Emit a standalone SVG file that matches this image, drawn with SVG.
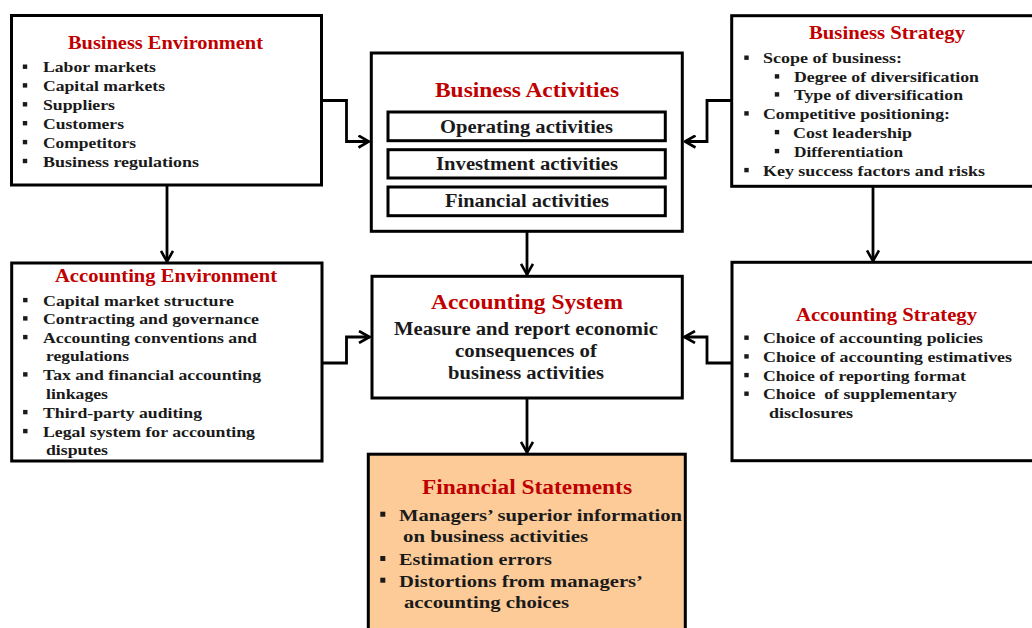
<svg xmlns="http://www.w3.org/2000/svg" xmlns:xlink="http://www.w3.org/1999/xlink" width="1032" height="628" viewBox="0 0 1032 628">
  <style>
    .box { fill: #ffffff; stroke: #000000; stroke-width: 3; }
    .fs { fill: #FCCB98; stroke: #000000; stroke-width: 3; }
    .t { font-family: "Liberation Serif", "Times New Roman", serif; font-weight: bold; fill: #1a1a1a; }
    .h { fill: #C00000; }
    .s { font-size: 15.5px; }
    .ht { font-size: 18.5px; }
    .hm { font-size: 20.5px; }
    .m { font-size: 18px; }
    .f { font-size: 17.5px; }
    .wire { fill: none; stroke: #000000; stroke-width: 2.8; }
    .dot { fill: #1a1a1a; }
  </style>
  <defs>
    <marker id="arr" viewBox="0 0 14 14" refX="12.5" refY="7" markerWidth="14" markerHeight="14" markerUnits="userSpaceOnUse" orient="auto">
      <path d="M2,1 L12.5,7 L2,13" fill="none" stroke="#000000" stroke-width="2.6"/>
    </marker>
    <rect id="b" x="-2.2" y="-2.2" width="4.4" height="4.4" class="dot"/>
    <rect id="bb" x="-2.5" y="-2.5" width="5" height="5" class="dot"/>
  </defs>

  <rect width="1032" height="628" fill="#ffffff"/>

  <!-- connectors -->
  <g id="connectors">
    <path class="wire" d="M322,100.5 H346.5 V141.5 H369" marker-end="url(#arr)"/>
    <path class="wire" d="M731,100.5 H707 V141.5 H685" marker-end="url(#arr)"/>
    <path class="wire" d="M527,232 V274.5" marker-end="url(#arr)"/>
    <path class="wire" d="M167,185 V261.5" marker-end="url(#arr)"/>
    <path class="wire" d="M873,186 V261" marker-end="url(#arr)"/>
    <path class="wire" d="M322,363 H346.5 V337 H369.5" marker-end="url(#arr)"/>
    <path class="wire" d="M731,363 H707 V337 H684.5" marker-end="url(#arr)"/>
    <path class="wire" d="M527,398 V452.5" marker-end="url(#arr)"/>
  </g>

  <!-- Business Environment -->
  <g id="business-environment">
    <rect class="box" x="11.5" y="15.5" width="310" height="169.5"/>
    <text class="t h ht" x="68" y="48.5" textLength="195" lengthAdjust="spacingAndGlyphs">Business Environment</text>
    <use xlink:href="#b" x="25" y="66.7"/>
    <use xlink:href="#b" x="25" y="85.4"/>
    <use xlink:href="#b" x="25" y="104.3"/>
    <use xlink:href="#b" x="25" y="123.2"/>
    <use xlink:href="#b" x="25" y="142.1"/>
    <use xlink:href="#b" x="25" y="161"/>
    <text class="t s" x="43" y="72.3" textLength="113" lengthAdjust="spacingAndGlyphs">Labor markets</text>
    <text class="t s" x="43" y="91" textLength="122" lengthAdjust="spacingAndGlyphs">Capital markets</text>
    <text class="t s" x="43" y="110" textLength="72" lengthAdjust="spacingAndGlyphs">Suppliers</text>
    <text class="t s" x="43" y="129" textLength="81" lengthAdjust="spacingAndGlyphs">Customers</text>
    <text class="t s" x="43" y="148" textLength="93" lengthAdjust="spacingAndGlyphs">Competitors</text>
    <text class="t s" x="43" y="167" textLength="156" lengthAdjust="spacingAndGlyphs">Business regulations</text>
  </g>

  <!-- Business Activities -->
  <g id="business-activities">
    <rect class="box" x="371.3" y="53" width="311" height="178.3"/>
    <text class="t h hm" x="435" y="97.3" textLength="184" lengthAdjust="spacingAndGlyphs">Business Activities</text>
    <rect class="box" x="388" y="112" width="277.3" height="28.7"/>
    <rect class="box" x="388" y="149.7" width="277.3" height="28.3"/>
    <rect class="box" x="388" y="187" width="277.3" height="28.7"/>
    <text class="t m" x="440" y="133" textLength="173" lengthAdjust="spacingAndGlyphs">Operating activities</text>
    <text class="t m" x="436" y="170" textLength="182" lengthAdjust="spacingAndGlyphs">Investment activities</text>
    <text class="t m" x="445" y="207" textLength="164" lengthAdjust="spacingAndGlyphs">Financial activities</text>
  </g>

  <!-- Business Strategy -->
  <g id="business-strategy">
    <rect class="box" x="731.7" y="15.7" width="320" height="170.6"/>
    <text class="t h ht" x="809" y="39" textLength="156" lengthAdjust="spacingAndGlyphs">Business Strategy</text>
    <use xlink:href="#b" x="746.5" y="57.7"/>
    <use xlink:href="#b" x="777" y="76.4"/>
    <use xlink:href="#b" x="777" y="94.4"/>
    <use xlink:href="#b" x="746.5" y="113.4"/>
    <use xlink:href="#b" x="777" y="132.1"/>
    <use xlink:href="#b" x="777" y="151.1"/>
    <use xlink:href="#b" x="746.5" y="170.1"/>
    <text class="t s" x="763" y="63.3" textLength="139" lengthAdjust="spacingAndGlyphs">Scope of business:</text>
    <text class="t s" x="794" y="82" textLength="185" lengthAdjust="spacingAndGlyphs">Degree of diversification</text>
    <text class="t s" x="794" y="100" textLength="169" lengthAdjust="spacingAndGlyphs">Type of diversification</text>
    <text class="t s" x="763" y="119" textLength="187" lengthAdjust="spacingAndGlyphs">Competitive positioning:</text>
    <text class="t s" x="793" y="137.7" textLength="119" lengthAdjust="spacingAndGlyphs">Cost leadership</text>
    <text class="t s" x="794" y="156.7" textLength="109" lengthAdjust="spacingAndGlyphs">Differentiation</text>
    <text class="t s" x="763" y="175.7" textLength="222" lengthAdjust="spacingAndGlyphs">Key success factors and risks</text>
  </g>

  <!-- Accounting Environment -->
  <g id="accounting-environment">
    <rect class="box" x="11.7" y="263" width="310.3" height="198"/>
    <text class="t h ht" x="55" y="282.3" textLength="222" lengthAdjust="spacingAndGlyphs">Accounting Environment</text>
    <use xlink:href="#b" x="25.3" y="300.1"/>
    <use xlink:href="#b" x="25.3" y="318.4"/>
    <use xlink:href="#b" x="25.3" y="337.1"/>
    <use xlink:href="#b" x="25.3" y="374.4"/>
    <use xlink:href="#b" x="25.3" y="412.1"/>
    <use xlink:href="#b" x="25.3" y="431.1"/>
    <text class="t s" x="43" y="305.7" textLength="191" lengthAdjust="spacingAndGlyphs">Capital market structure</text>
    <text class="t s" x="43" y="324" textLength="216" lengthAdjust="spacingAndGlyphs">Contracting and governance</text>
    <text class="t s" x="43" y="342.7" textLength="214" lengthAdjust="spacingAndGlyphs">Accounting conventions and</text>
    <text class="t s" x="46" y="361" textLength="83" lengthAdjust="spacingAndGlyphs">regulations</text>
    <text class="t s" x="43" y="380" textLength="218" lengthAdjust="spacingAndGlyphs">Tax and financial accounting</text>
    <text class="t s" x="46" y="398.7" textLength="62" lengthAdjust="spacingAndGlyphs">linkages</text>
    <text class="t s" x="43" y="417.7" textLength="159" lengthAdjust="spacingAndGlyphs">Third-party auditing</text>
    <text class="t s" x="43" y="436.7" textLength="212" lengthAdjust="spacingAndGlyphs">Legal system for accounting</text>
    <text class="t s" x="46" y="455" textLength="62" lengthAdjust="spacingAndGlyphs">disputes</text>
  </g>

  <!-- Accounting System -->
  <g id="accounting-system">
    <rect class="box" x="372" y="276.3" width="310.3" height="121.7"/>
    <text class="t h hm" x="431" y="309.3" textLength="192" lengthAdjust="spacingAndGlyphs">Accounting System</text>
    <text class="t m" x="394" y="335" textLength="264" lengthAdjust="spacingAndGlyphs">Measure and report economic</text>
    <text class="t m" x="455" y="357.3" textLength="142" lengthAdjust="spacingAndGlyphs">consequences of</text>
    <text class="t m" x="448" y="379" textLength="156" lengthAdjust="spacingAndGlyphs">business activities</text>
  </g>

  <!-- Accounting Strategy -->
  <g id="accounting-strategy">
    <rect class="box" x="732" y="262.3" width="320" height="198.4"/>
    <text class="t h ht" x="796" y="320.7" textLength="181" lengthAdjust="spacingAndGlyphs">Accounting Strategy</text>
    <use xlink:href="#b" x="746.5" y="337.7"/>
    <use xlink:href="#b" x="746.5" y="356.4"/>
    <use xlink:href="#b" x="746.5" y="375.1"/>
    <use xlink:href="#b" x="746.5" y="393.7"/>
    <text class="t s" x="763" y="343.3" textLength="220" lengthAdjust="spacingAndGlyphs">Choice of accounting policies</text>
    <text class="t s" x="763" y="362" textLength="249" lengthAdjust="spacingAndGlyphs">Choice of accounting estimatives</text>
    <text class="t s" x="763" y="380.7" textLength="203" lengthAdjust="spacingAndGlyphs">Choice of reporting format</text>
    <text class="t s" x="763" y="399.3" textLength="194" lengthAdjust="spacingAndGlyphs" xml:space="preserve">Choice  of supplementary</text>
    <text class="t s" x="769" y="417.7" textLength="84" lengthAdjust="spacingAndGlyphs">disclosures</text>
  </g>

  <!-- Financial Statements -->
  <g id="financial-statements">
    <rect class="fs" x="368.3" y="454.2" width="317" height="190"/>
    <text class="t h hm" x="422" y="494" textLength="210" lengthAdjust="spacingAndGlyphs">Financial Statements</text>
    <use xlink:href="#bb" x="382.8" y="514.2"/>
    <use xlink:href="#bb" x="382.8" y="558.5"/>
    <use xlink:href="#bb" x="382.8" y="580.2"/>
    <text class="t f" x="399" y="520.7" textLength="283" lengthAdjust="spacingAndGlyphs">Managers’ superior information</text>
    <text class="t f" x="403" y="542.3" textLength="185" lengthAdjust="spacingAndGlyphs">on business activities</text>
    <text class="t f" x="399" y="565" textLength="153" lengthAdjust="spacingAndGlyphs">Estimation errors</text>
    <text class="t f" x="399" y="586.7" textLength="244" lengthAdjust="spacingAndGlyphs">Distortions from managers’</text>
    <text class="t f" x="404" y="608.3" textLength="165" lengthAdjust="spacingAndGlyphs">accounting choices</text>
  </g>
</svg>
